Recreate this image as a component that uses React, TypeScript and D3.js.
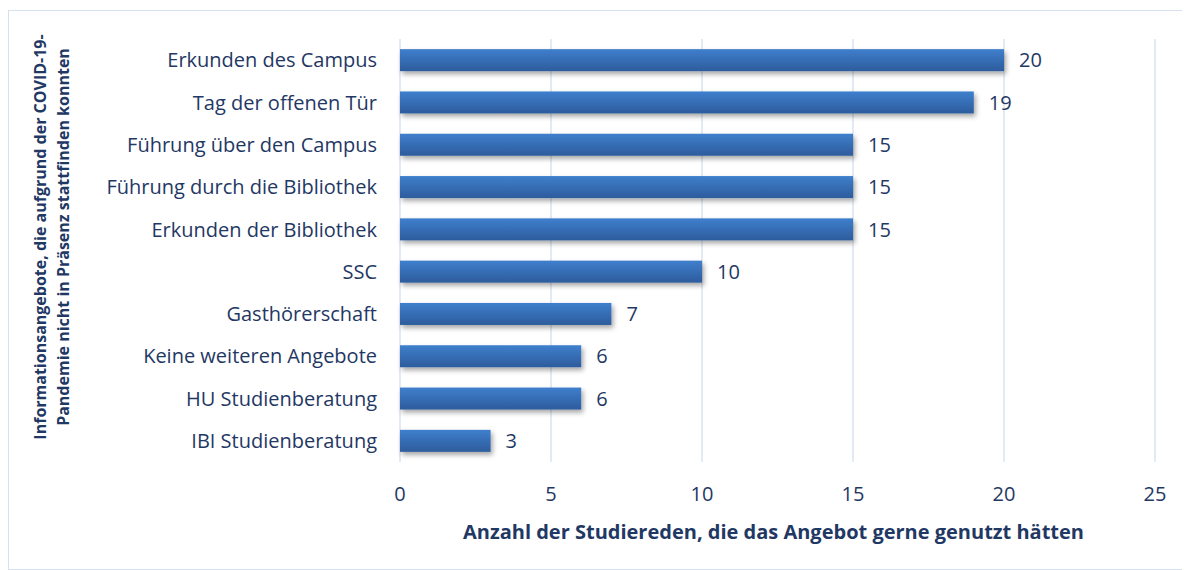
import { useEffect, useRef } from "react";
import * as d3 from "d3";

const categories = [
  "Erkunden des Campus",
  "Tag der offenen Tür",
  "Führung über den Campus",
  "Führung durch die Bibliothek",
  "Erkunden der Bibliothek",
  "SSC",
  "Gasthörerschaft",
  "Keine weiteren Angebote",
  "HU Studienberatung",
  "IBI Studienberatung",
];
const values = [20, 19, 15, 15, 15, 10, 7, 6, 6, 3];
const xTicks = [0, 5, 10, 15, 20, 25];
const yTitle = [
  "Informationsangebote, die aufgrund der COVID-19-",
  "Pandemie nicht in Präsenz stattfinden konnten",
];
const xTitle = "Anzahl der Studiereden, die das Angebot gerne genutzt hätten";

const W = 1182;
const H = 562;
const FONT = "'Open Sans', 'Noto Sans', sans-serif";
const TEXT = "#1f3864";

export default function App() {
  const ref = useRef<SVGSVGElement | null>(null);

  useEffect(() => {
    if (!ref.current) return;
    const svg = d3.select(ref.current);
    svg.selectAll("*").remove();

    const defs = svg.append("defs");
    const grad = defs
      .append("linearGradient")
      .attr("id", "barGrad")
      .attr("x1", 0)
      .attr("y1", 0)
      .attr("x2", 0)
      .attr("y2", 1);
    grad.append("stop").attr("offset", "0%").attr("stop-color", "#3f7fcd");
    grad.append("stop").attr("offset", "100%").attr("stop-color", "#2d5c9c");
    const shadow = defs.append("filter").attr("id", "shadow").attr("x", "-5%").attr("y", "-30%").attr("width", "115%").attr("height", "180%");
    shadow
      .append("feDropShadow")
      .attr("dx", 2)
      .attr("dy", 3)
      .attr("stdDeviation", 2.5)
      .attr("flood-color", "#000")
      .attr("flood-opacity", 0.35);

    svg
      .append("rect")
      .attr("x", 0.5)
      .attr("y", 2.5)
      .attr("width", W - 1)
      .attr("height", H - 3)
      .attr("fill", "#fff")
      .attr("stroke", "#d6e0ee")
      .attr("stroke-width", 1);

    const margin = { top: 31, right: 35, bottom: 108, left: 392 };
    const innerWidth = W - margin.left - margin.right;
    const innerHeight = H - margin.top - margin.bottom;
    const g = svg.append("g").attr("transform", `translate(${margin.left},${margin.top})`);

    const x = d3.scaleLinear().domain([0, 25]).range([0, innerWidth]);
    const y = d3.scaleBand().domain(categories).range([0, innerHeight]).paddingInner(0.48).paddingOuter(0.24);

    g.append("g")
      .selectAll("line")
      .data(xTicks)
      .join("line")
      .attr("x1", (d) => x(d))
      .attr("x2", (d) => x(d))
      .attr("y1", 0)
      .attr("y2", innerHeight)
      .attr("stroke", "#d9e3f1")
      .attr("stroke-width", 1.5);

    g.append("g")
      .selectAll("rect")
      .data(values)
      .join("rect")
      .attr("x", x(0))
      .attr("y", (_, i) => y(categories[i]) as number)
      .attr("width", (d) => x(d) - x(0))
      .attr("height", y.bandwidth())
      .attr("fill", "url(#barGrad)")
      .attr("filter", "url(#shadow)");

    g.append("g")
      .selectAll("text")
      .data(values)
      .join("text")
      .attr("x", (d) => x(d) + 15)
      .attr("y", (_, i) => (y(categories[i]) as number) + y.bandwidth() / 2)
      .attr("dy", "0.36em")
      .attr("fill", TEXT)
      .attr("font-family", FONT)
      .attr("font-size", 20)
      .text((d) => d);

    g.append("g")
      .selectAll("text")
      .data(categories)
      .join("text")
      .attr("x", -23)
      .attr("y", (d) => (y(d) as number) + y.bandwidth() / 2)
      .attr("dy", "0.36em")
      .attr("text-anchor", "end")
      .attr("fill", TEXT)
      .attr("font-family", FONT)
      .attr("font-size", 20)
      .text((d) => d);

    g.append("g")
      .selectAll("text")
      .data(xTicks)
      .join("text")
      .attr("x", (d) => x(d))
      .attr("y", innerHeight + 32)
      .attr("dy", "0.36em")
      .attr("text-anchor", "middle")
      .attr("fill", TEXT)
      .attr("font-family", FONT)
      .attr("font-size", 20)
      .text((d) => d);

    g.append("text")
      .attr("x", innerWidth / 2 - 4)
      .attr("y", innerHeight + 70)
      .attr("dy", "0.36em")
      .attr("text-anchor", "middle")
      .attr("fill", TEXT)
      .attr("font-family", FONT)
      .attr("font-weight", 700)
      .attr("font-size", 20)
      .text(xTitle);

    const yt = svg
      .append("text")
      .attr("transform", `translate(38, 229) rotate(-90)`)
      .attr("text-anchor", "middle")
      .attr("fill", TEXT)
      .attr("font-family", FONT)
      .attr("font-weight", 700)
      .attr("font-size", 16);
    yTitle.forEach((line, i) => {
      yt.append("tspan").attr("x", 0).attr("y", i * 23).text(line);
    });
  }, []);

  return (
    <div style={{ width: W, height: H }}>
      <svg ref={ref} width={W} height={H} style={{ display: "block" }} />
    </div>
  );
}
